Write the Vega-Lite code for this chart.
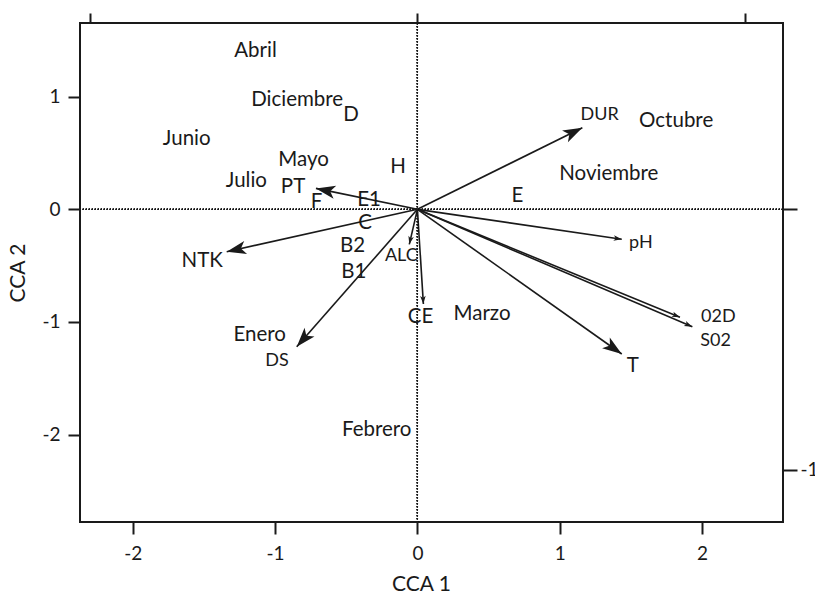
{
  "$schema": "https://vega.github.io/schema/vega-lite/v6.json",
  "width": 703,
  "height": 499,
  "autosize": {"type": "none"},
  "padding": {"left": 80, "top": 23, "right": 32, "bottom": 72},
  "background": "white",
  "config": {
    "font": "Lato",
    "view": {"stroke": "#1a1a1a", "strokeWidth": 2},
    "axis": {
      "domain": false,
      "grid": false,
      "tickColor": "#1a1a1a",
      "tickWidth": 2,
      "labelColor": "#1a1a1a",
      "titleColor": "#1a1a1a",
      "labelFont": "Lato",
      "titleFont": "Lato",
      "labelFontSize": 19,
      "titleFontSize": 21,
      "titleFontWeight": "normal"
    }
  },
  "datasets": {
    "labels": [
      {"name": "Abril", "x": -1.138, "y": 1.408},
      {"name": "Diciembre", "x": -0.845, "y": 0.974},
      {"name": "D", "x": -0.467, "y": 0.838},
      {"name": "Junio", "x": -1.621, "y": 0.624},
      {"name": "Mayo", "x": -0.8, "y": 0.438},
      {"name": "H", "x": -0.136, "y": 0.379},
      {"name": "Julio", "x": -1.202, "y": 0.251},
      {"name": "PT", "x": -0.874, "y": 0.2},
      {"name": "F", "x": -0.708, "y": 0.067},
      {"name": "E1", "x": -0.34, "y": 0.085},
      {"name": "C", "x": -0.368, "y": -0.124},
      {"name": "B2", "x": -0.456, "y": -0.329},
      {"name": "NTK", "x": -1.512, "y": -0.457},
      {"name": "B1", "x": -0.446, "y": -0.557},
      {"name": "ALC", "x": -0.113, "y": -0.417},
      {"name": "CE", "x": 0.022, "y": -0.956},
      {"name": "Marzo", "x": 0.454, "y": -0.93},
      {"name": "Enero", "x": -1.108, "y": -1.116},
      {"name": "DS", "x": -0.987, "y": -1.343},
      {"name": "Febrero", "x": -0.286, "y": -1.96},
      {"name": "DUR", "x": 1.281, "y": 0.842},
      {"name": "Octubre", "x": 1.818, "y": 0.788},
      {"name": "Noviembre", "x": 1.345, "y": 0.312},
      {"name": "E", "x": 0.703, "y": 0.12},
      {"name": "pH", "x": 1.57, "y": -0.3},
      {"name": "02D", "x": 2.115, "y": -0.958},
      {"name": "S02", "x": 2.095, "y": -1.172},
      {"name": "T", "x": 1.513, "y": -1.395}
    ],
    "vectors": [
      {"name": "DUR", "x": 1.159, "y": 0.725},
      {"name": "pH", "x": 1.436, "y": -0.266},
      {"name": "02D", "x": 1.845, "y": -0.959},
      {"name": "S02", "x": 1.932, "y": -1.043},
      {"name": "T", "x": 1.436, "y": -1.285},
      {"name": "CE", "x": 0.042, "y": -0.841},
      {"name": "ALC", "x": -0.057, "y": -0.311},
      {"name": "DS", "x": -0.848, "y": -1.22},
      {"name": "NTK", "x": -1.34, "y": -0.376},
      {"name": "PT", "x": -0.713, "y": 0.186}
    ]
  },
  "layer": [
    {
      "layer": [
        {
          "data": {"name": "vectors"},
          "mark": {"type": "rule", "color": "#1a1a1a", "strokeWidth": 1.6},
          "encoding": {
            "x": {
              "field": "x", "type": "quantitative",
              "scale": {"domain": [-2.371, 2.569], "nice": false, "zero": false},
              "axis": {"values": [-2, -1, 0, 1, 2], "tickSize": 12, "labelPadding": 10, "title": "CCA 1", "titleX": 341, "titleY": 62, "titleBaseline": "middle", "labelExpr": "'' + datum.value"}
            },
            "y": {
              "field": "y", "type": "quantitative",
              "scale": {"domain": [-2.777, 1.655], "nice": false, "zero": false},
              "axis": {"values": [-2, -1, 0, 1], "tickSize": 12, "labelPadding": 8, "title": "CCA 2", "titleX": -62, "titleY": 249.5, "titleBaseline": "middle", "labelExpr": "'' + datum.value"}
            },
            "x2": {"datum": 0},
            "y2": {"datum": 0}
          }
        },
        {
          "data": {"name": "vectors"},
          "mark": {"type": "rule", "color": "#1a1a1a", "strokeWidth": 1.2, "strokeDash": [1.2, 1.8]},
          "encoding": {"y": {"datum": 0, "type": "quantitative"}}
        },
        {
          "data": {"name": "vectors"},
          "mark": {"type": "rule", "color": "#1a1a1a", "strokeWidth": 1.2, "strokeDash": [1.2, 1.8]},
          "encoding": {"x": {"datum": 0, "type": "quantitative"}}
        },
        {
          "data": {"name": "vectors"},
          "transform": [{"filter": {"field": "name", "oneOf": ["DUR", "T", "DS", "NTK", "PT"]}}],
          "mark": {
            "type": "point",
            "shape": "M0,0 L0.75,2.2 L0,1.65 L-0.75,2.2 Z",
            "filled": true,
            "color": "#1a1a1a",
            "opacity": 1,
            "size": 310,
            "angle": {"expr": "atan2(datum.x * 142.3, datum.y * 112.6) * 180 / PI"}
          },
          "encoding": {
            "x": {"field": "x", "type": "quantitative"},
            "y": {"field": "y", "type": "quantitative"}
          }
        },
        {
          "data": {"name": "vectors"},
          "transform": [{"filter": {"field": "name", "oneOf": ["pH", "02D", "S02", "CE", "ALC"]}}],
          "mark": {
            "type": "point",
            "shape": "M0,0 L0.75,2.2 L0,1.65 L-0.75,2.2 Z",
            "filled": true,
            "color": "#1a1a1a",
            "opacity": 1,
            "size": 55,
            "angle": {"expr": "atan2(datum.x * 142.3, datum.y * 112.6) * 180 / PI"}
          },
          "encoding": {
            "x": {"field": "x", "type": "quantitative"},
            "y": {"field": "y", "type": "quantitative"}
          }
        },
        {
          "data": {"name": "labels"},
          "transform": [{"filter": {"not": {"field": "name", "oneOf": ["DUR", "pH", "02D", "S02", "DS", "ALC"]}}}],
          "mark": {"type": "text", "font": "Lato", "fontSize": 20.5, "color": "#1a1a1a", "align": "center", "baseline": "middle"},
          "encoding": {
            "x": {"field": "x", "type": "quantitative"},
            "y": {"field": "y", "type": "quantitative"},
            "text": {"field": "name"}
          }
        },
        {
          "data": {"name": "labels"},
          "transform": [{"filter": {"field": "name", "oneOf": ["DUR", "pH", "02D", "S02", "DS", "ALC"]}}],
          "mark": {"type": "text", "font": "Lato", "fontSize": 18, "color": "#1a1a1a", "align": "center", "baseline": "middle"},
          "encoding": {
            "x": {"field": "x", "type": "quantitative"},
            "y": {"field": "y", "type": "quantitative"},
            "text": {"field": "name"}
          }
        }
      ]
    },
    {
      "data": {"values": [{"u": 0, "v": 0}]},
      "mark": {"type": "point", "opacity": 0},
      "encoding": {
        "x": {
          "field": "u", "type": "quantitative",
          "scale": {"domain": [-1.031, 1.117], "nice": false, "zero": false},
          "axis": {"orient": "top", "values": [-1, 0, 1], "labels": false, "tickSize": 10, "title": null}
        },
        "y": {
          "field": "v", "type": "quantitative",
          "scale": {"domain": [-1.1996, 0.7149], "nice": false, "zero": false},
          "axis": {"orient": "right", "values": [0, -1], "tickSize": 14, "labelPadding": 3, "title": null, "labelExpr": "datum.value == -1 ? '-1' : ''"}
        }
      }
    }
  ],
  "resolve": {"scale": {"x": "independent", "y": "independent"}}
}
